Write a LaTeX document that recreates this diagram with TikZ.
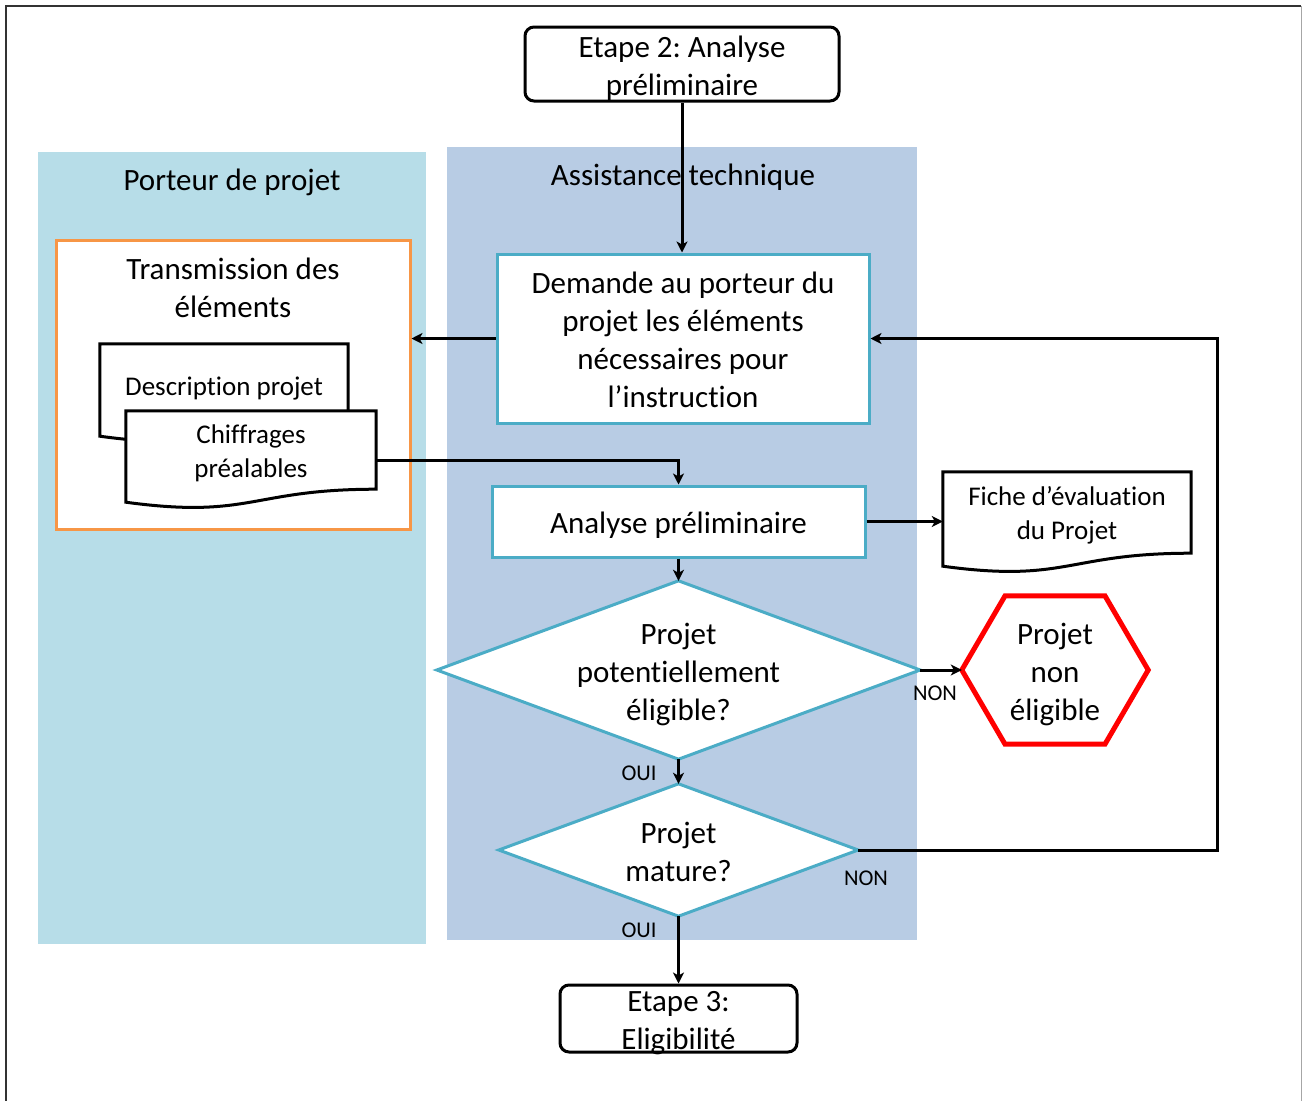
\documentclass[tikz,border=0pt]{standalone}
\usepackage{fontspec}
\setmainfont{Carlito}[Ligatures=NoCommon]
\frenchspacing
\usetikzlibrary{arrows.meta,calc}
\pgfdeclarelayer{lanes}
\pgfdeclarelayer{boxes}
\pgfdeclarelayer{shapes}
\pgfsetlayers{lanes,boxes,shapes,main}

\definecolor{laneA}{HTML}{B7DDE8}
\definecolor{laneB}{HTML}{B8CCE4}
\definecolor{tealline}{HTML}{4BACC6}
\definecolor{orangeline}{HTML}{F79646}
\definecolor{redline}{HTML}{FF0000}

% tall first line, so multi-line blocks keep the same ascent as single lines
\newcommand\topline{\rule{0pt}{1em}}
% document symbol: rectangle with a wavy lower edge, drawn under the node text
\newcommand\wavedoc[1]{%
  \begin{pgfonlayer}{shapes}
    \draw[docline] (#1.south east) -- (#1.north east) -- (#1.north west)
      -- ($(#1.south west)+(0,13)$)
      .. controls ($(#1.south)+(0,30)$) and (#1.south) .. (#1.south east) -- cycle;
  \end{pgfonlayer}}
% decision symbol spanning the node's box
\newcommand\decision[1]{%
  \begin{pgfonlayer}{shapes}
    \draw[decline] (#1.north) -- (#1.east) -- (#1.south) -- (#1.west) -- cycle;
  \end{pgfonlayer}}

\begin{document}
\begin{tikzpicture}[x=1pt,y=-1pt,
  % fixed line box (ascent/descent) so that text blocks centre like slide text
  linebox/.style n args={2}{execute at begin node={\rule{0pt}{#1}},
                            execute at end node={\rule[-#2]{0pt}{#2}}},
  every node/.style={font=\fontsize{31}{38}\selectfont, align=center, inner sep=0pt,
                     linebox={30pt}{7pt}},
  stepbox/.style={draw=tealline, line width=3pt, fill=white},
  term/.style={draw=black, line width=3pt, rounded corners=9pt, fill=white, inner ysep=-6pt},
  conn/.style={line width=3pt, -{Stealth[length=11pt,width=11pt,inset=3pt]}},
  small/.style={font=\fontsize{27}{34}\selectfont, linebox={28pt}{6pt}},
  tag/.style={font=\fontsize{22.5}{27}\selectfont, linebox={19pt}{5pt}},
  docline/.style={draw=black, line width=3pt, fill=white},
  decline/.style={draw=tealline, line width=3pt, fill=white},
  ]
\useasboundingbox (0,0) rectangle (1302,1101);

% page frame
\draw[line width=2pt, black!80] (6,1101) -- (6,6) -- (1301,6);
\draw[line width=1pt, black!35] (1301,6) -- (1301,1101);

% swimlanes
\begin{pgfonlayer}{lanes}
  \node[fill=laneA, minimum width=388pt, minimum height=792pt] (laneporteur) at (232,548) {};
  \node[fill=laneB, minimum width=470pt, minimum height=793pt] (laneassist) at (682,543.5) {};
\end{pgfonlayer}
\node (tporteur) at (232,179) {Porteur de projet};
\node (tassist) at (683,174) {Assistance technique};

% terminals
\node[term, minimum width=314pt, minimum height=74pt] (etape2) at (682,64) {\topline Etape 2: Analyse\\préliminaire};
\node[term, minimum width=237pt, minimum height=67pt] (etape3) at (678.5,1018.5) {\topline Etape 3:\\Eligibilité};

% process steps
\node[stepbox, minimum width=372pt, minimum height=169pt] (demande) at (683,338.5)
  {\topline Demande au porteur du\\projet les éléments\\nécessaires pour\\l’instruction};
\node[stepbox, minimum width=373pt, minimum height=71pt] (analyse) at (678.5,521.5) {Analyse préliminaire};

% transmitted documents
\begin{pgfonlayer}{boxes}
  \node[draw=orangeline, line width=3pt, fill=white, minimum width=354pt, minimum height=289pt] (transmission) at (233,384.5) {};
\end{pgfonlayer}
\node (ttrans) at (233,286) {\topline Transmission des\\éléments};
\node[small, minimum width=248pt, minimum height=79pt] (descr) at (224,383.5) {Description projet};
\node[small, minimum width=250pt, minimum height=78pt] (chif) at (251,450) {\topline Chiffrages\\préalables};
\node[small, minimum width=248pt, minimum height=81pt] (fiche) at (1067,512.5) {\topline Fiche d’évaluation\\du Projet};
\wavedoc{descr}
\wavedoc{chif}
\wavedoc{fiche}

% decisions
\node[minimum width=483pt, minimum height=178pt] (d1) at (678.5,670) {\topline Projet\\potentiellement\\éligible?};
\node[minimum width=359pt, minimum height=132pt] (d2) at (678.5,850) {\topline Projet\\mature?};
\decision{d1}
\decision{d2}

% rejection
\node[minimum width=186pt, minimum height=148pt] (hex) at (1055,670) {\topline Projet\\non\\éligible};
\begin{pgfonlayer}{shapes}
  \draw[draw=redline, line width=5pt, fill=white] (hex.west)
    -- ($(hex.north west)!0.232!(hex.north east)$)
    -- ($(hex.north west)!0.768!(hex.north east)$)
    -- (hex.east)
    -- ($(hex.south west)!0.768!(hex.south east)$)
    -- ($(hex.south west)!0.232!(hex.south east)$) -- cycle;
\end{pgfonlayer}

% connectors
\draw[conn] (etape2.south) -- (etape2.south |- demande.north);
\draw[conn] (demande.west) -- (demande.west -| transmission.east);
\draw[conn] ($(chif.north east)!0.63!(chif.south east)$) -| (analyse.north);
\draw[conn] (analyse.east) -- (analyse.east -| fiche.west);
\draw[conn] (analyse.south) -- (d1.north);
\draw[conn] (d1.east) -- (hex.west);
\draw[conn] (d1.south) -- (d2.north);
\coordinate (loopx) at (1217,850);
\draw[conn] (d2.east) -- (loopx) |- (demande.east);
\draw[conn] (d2.south) -- (etape3.north);

% branch labels
\node[tag] (non1) at (935,689) {NON};
\node[tag] (oui1) at (639,769) {OUI};
\node[tag] (non2) at (866,874) {NON};
\node[tag] (oui2) at (639,926) {OUI};
\end{tikzpicture}
\end{document}
